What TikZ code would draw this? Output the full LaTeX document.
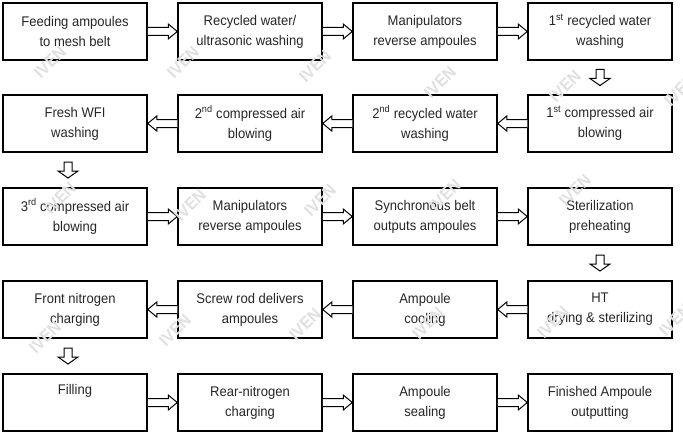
\documentclass[tikz,border=0pt]{standalone}
\usepackage{fontspec}
\setmainfont{Liberation Sans}[FakeStretch=0.93]
\usetikzlibrary{calc}
\tikzset{
  stepbox/.style={draw, line width=1.5pt, rectangle, minimum width=144pt, minimum height=57pt,
    inner sep=0pt, align=center, font=\fontsize{14}{20}\selectfont, text=black!85},
  blockarrow/.style={draw, line width=1pt, fill=white, line join=miter},
  wm/.style={rotate=45, text=black!12, font=\fontsize{17}{17}\selectfont\bfseries}
}
\newcommand\rarrowx[2]{\draw[blockarrow] let \p1=(#1.east), \p2=(#2.west) in
  (\x1,\y1+4pt) -- (\x2-9pt,\y1+4pt) -- (\x2-9pt,\y1+7.5pt) -- (\x2,\y1) --
  (\x2-9pt,\y1-7.5pt) -- (\x2-9pt,\y1-4pt) -- (\x1,\y1-4pt);}
\newcommand\larrowx[2]{\draw[blockarrow] let \p1=(#1.west), \p2=(#2.east) in
  (\x1,\y1+4pt) -- (\x2+9pt,\y1+4pt) -- (\x2+9pt,\y1+7.5pt) -- (\x2,\y1) --
  (\x2+9pt,\y1-7.5pt) -- (\x2+9pt,\y1-4pt) -- (\x1,\y1-4pt);}
\newcommand\darrowx[3]{\draw[blockarrow] let \p3=($(#1.south)!0.5!(#2.north)+(#3pt,0pt)$) in
  (\x3-4pt,\y3+8pt) -- (\x3-4pt,\y3-1pt) -- (\x3-10pt,\y3-1pt) --
  (\x3,\y3-8pt) -- (\x3+10pt,\y3-1pt) -- (\x3+4pt,\y3-1pt) --
  (\x3+4pt,\y3+8pt) -- cycle;}
\begin{document}
\begin{tikzpicture}[x=1pt,y=-1pt]
\useasboundingbox (0,0) rectangle (683,436);
\fill[white] (0,0) rectangle (683,436);
% row 1
\node[stepbox] (a1) at (75,31.5) {Feeding ampoules\\to mesh belt};
\node[stepbox] (a2) at (250,31.5) {Recycled water/\\ultrasonic washing};
\node[stepbox] (a3) at (425,31.5) {Manipulators\\reverse ampoules};
\node[stepbox] (a4) at (600,31.5) {1\textsuperscript{st} recycled water\\washing};
% row 2
\node[stepbox] (b1) at (75,123.5) {Fresh WFI\\washing};
\node[stepbox] (b2) at (250,123.5) {2\textsuperscript{nd} compressed air\\blowing};
\node[stepbox] (b3) at (425,123.5) {2\textsuperscript{nd} recycled water\\washing};
\node[stepbox] (b4) at (600,123.5) {1\textsuperscript{st} compressed air\\blowing};
% row 3
\node[stepbox] (c1) at (75,216.5) {3\textsuperscript{rd} compressed air\\blowing};
\node[stepbox] (c2) at (250,216.5) {Manipulators\\reverse ampoules};
\node[stepbox] (c3) at (425,216.5) {Synchronous belt\\outputs ampoules};
\node[stepbox] (c4) at (600,216.5) {Sterilization\\preheating};
% row 4
\node[stepbox] (d1) at (75,309.5) {Front nitrogen\\charging};
\node[stepbox] (d2) at (250,309.5) {Screw rod delivers\\ampoules};
\node[stepbox] (d3) at (425,309.5) {Ampoule\\cooling};
\node[stepbox] (d4) at (600,309.5) {HT\\drying \& sterilizing};
% row 5
\node[stepbox] (e1) at (75,402.5) {Filling\\\strut};
\node[stepbox] (e2) at (250,402.5) {Rear-nitrogen\\charging};
\node[stepbox] (e3) at (425,402.5) {Ampoule\\sealing};
\node[stepbox] (e4) at (600,402.5) {Finished Ampoule\\outputting};
% connectors
\rarrowx{a1}{a2}\rarrowx{a2}{a3}\rarrowx{a3}{a4}
\darrowx{a4}{b4}{0}
\larrowx{b4}{b3}\larrowx{b3}{b2}\larrowx{b2}{b1}
\darrowx{b1}{c1}{-7}
\rarrowx{c1}{c2}\rarrowx{c2}{c3}\rarrowx{c3}{c4}
\darrowx{c4}{d4}{0}
\larrowx{d4}{d3}\larrowx{d3}{d2}\larrowx{d2}{d1}
\darrowx{d1}{e1}{-7}
\rarrowx{e1}{e2}\rarrowx{e2}{e3}\rarrowx{e3}{e4}
% watermarks
\foreach \wx/\wy [count=\i] in {50/62,183/62,315/66,440/82,565/86,680/90,
  60/198,190/205,320/200,445/195,575/190,
  45/337,175/330,305/324,428/323,553/322,675/320}
  \node[wm] (wm\i) at (\wx,\wy) {IVEN};
\end{tikzpicture}
\end{document}
